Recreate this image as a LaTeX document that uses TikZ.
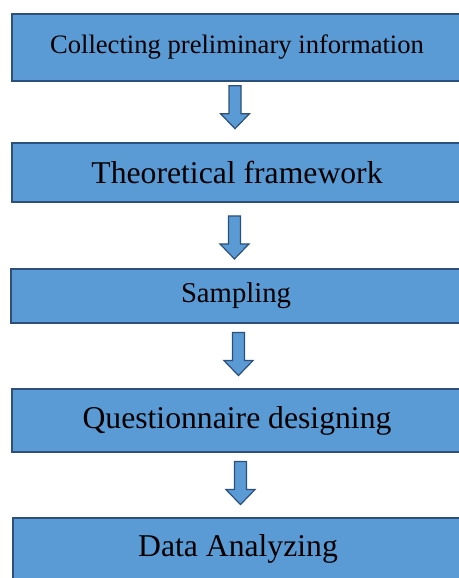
\documentclass[tikz,border=0pt]{standalone}
\usepackage{fontspec}
\setmainfont{Liberation Serif}
\definecolor{boxblue}{RGB}{91,155,213}
\definecolor{edgeblue}{RGB}{44,80,122}
\tikzset{
  stage/.style={draw=edgeblue, fill=boxblue, line width=1.5bp, minimum width=450bp, inner sep=0pt, text=black},
  blockarrow/.style={draw=edgeblue, fill=boxblue, line width=1.2bp, line join=miter}
}
\begin{document}
\begin{tikzpicture}[x=1bp, y=1bp]
\useasboundingbox (0,0) rectangle (459,-578);
\node[stage, minimum height=67bp, font=\fontsize{26.7}{32}\selectfont] (col) at (237,-47.5) {Collecting preliminary information};
\node[stage, minimum height=59bp, font=\fontsize{31.8}{38}\selectfont] (the) at (237,-172.5) {Theoretical framework};
\node[stage, minimum height=54bp, font=\fontsize{28.8}{34}\selectfont] (sam) at (236,-296) {Sampling};
\node[stage, minimum height=63bp, font=\fontsize{31.8}{38}\selectfont] (que) at (237,-420.5) {Questionnaire designing};
\node[stage, minimum height=62bp, font=\fontsize{31.8}{38}\selectfont] (dat) at (238,-549) {Data Analyzing};
\foreach \a/\b/\p/\dx in {col/the/.42/-2, the/sam/.53/-2, sam/que/.47/2, que/dat/.47/3}
{
    \path (\a.south) -- coordinate[pos=\p] (m) (\b.north);
    \draw[blockarrow] (m) ++(\dx-6,21.5) -- ++(12,0) -- ++(0,-28) -- ++(8.5,0) -- ++(-14.5,-15) -- ++(-14.5,15) -- ++(8.5,0) -- cycle;
}
\end{tikzpicture}
\end{document}
